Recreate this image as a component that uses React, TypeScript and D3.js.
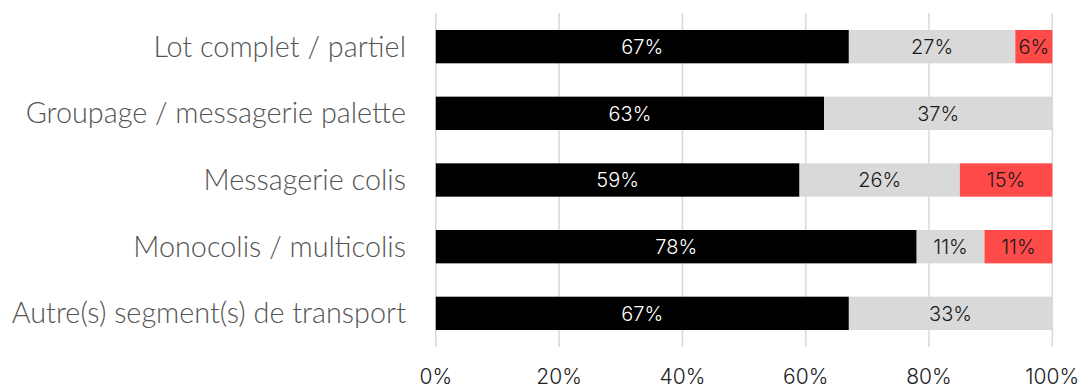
import React from "react";
import * as d3 from "d3";

const categories = [
  "Lot complet / partiel",
  "Groupage / messagerie palette",
  "Messagerie colis",
  "Monocolis / multicolis",
  "Autre(s) segment(s) de transport",
];
const seriesA = [67, 63, 59, 78, 67];
const seriesB = [27, 37, 26, 11, 33];
const seriesC = [6, 0, 15, 11, 0];
const tickValues = [0, 20, 40, 60, 80, 100];

const colors = ["#000000", "#d9d9d9", "#ff4a4a"];
const textColors = ["#ffffff", "#1a1a1a", "#1a1a1a"];

export default function App() {
  const W = 1086, H = 388;
  const x = d3.scaleLinear().domain([0, 100]).range([435.8, 1052.3]);
  const y = d3.scaleBand<string>().domain(categories).range([13.3, 346.7]).paddingInner(0.5).paddingOuter(0.25);
  const rows = categories.map((c, i) => ({ c, vals: [seriesA[i], seriesB[i], seriesC[i]] }));
  const bw = y.bandwidth();
  return (
    <svg width={W} height={H} style={{ position: "absolute", left: 0, top: 0 }}>
      <rect width={W} height={H} fill="#fff" />
      {tickValues.map((t) => (
        <line key={t} x1={x(t)} x2={x(t)} y1={13} y2={347} stroke="#d9d9d9" strokeWidth={1.5} />
      ))}
      {rows.map((r) => {
        let acc = 0;
        const y0 = y(r.c)!;
        return (
          <g key={r.c}>
            {r.vals.map((v, j) => {
              const start = acc;
              acc += v;
              if (v <= 0) return null;
              return (
                <g key={j}>
                  <rect x={x(start)} y={y0} width={x(start + v) - x(start)} height={bw} fill={colors[j]} />
                  <text
                    x={(x(start) + x(start + v)) / 2}
                    y={y0 + bw / 2}
                    dy="0.36em"
                    textAnchor="middle"
                    fontFamily="Inter, Roboto, sans-serif"
                    fontWeight={300}
                    fontSize={20}
                    fill={textColors[j]}
                  >
                    {v}%
                  </text>
                </g>
              );
            })}
            <text
              x={406}
              y={y0 + bw / 2}
              dy="0.35em"
              textAnchor="end"
              fontFamily="Lato, sans-serif"
              fontWeight={300}
              fontSize={28.8}
              fill="#555"
            >
              {r.c}
            </text>
          </g>
        );
      })}
      {tickValues.map((t) => (
        <text
          key={t}
          x={x(t)}
          y={376}
          dy="0.36em"
          textAnchor="middle"
          fontFamily="Inter, Roboto, sans-serif"
          fontWeight={300}
          fontSize={21}
          fill="#222"
        >
          {t}%
        </text>
      ))}
    </svg>
  );
}
